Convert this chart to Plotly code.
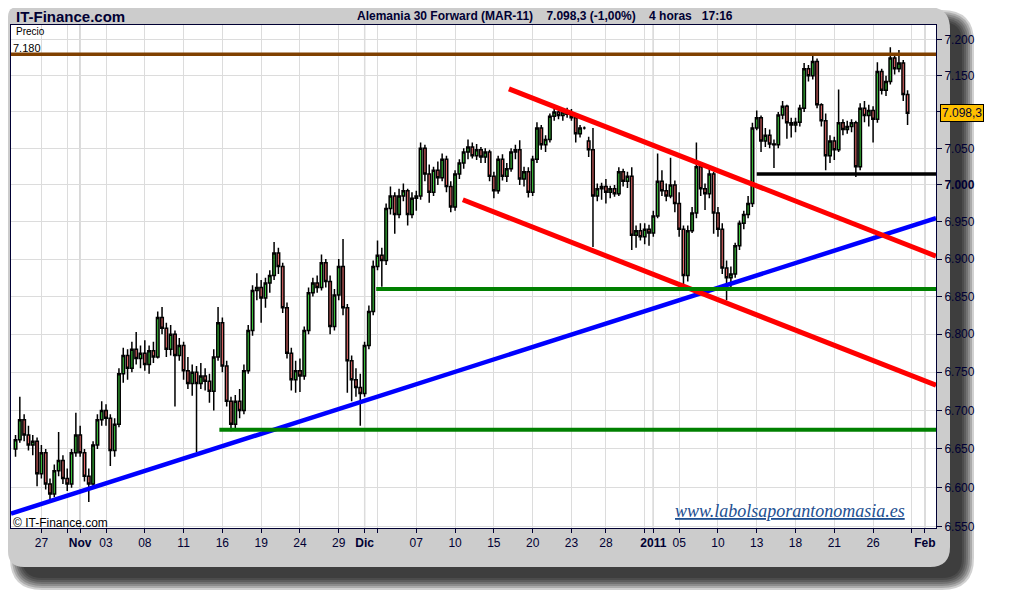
import math

import plotly.graph_objects as go

# sessions on the chart, 4 hour bars: three per session, two on the short sessions
trading_days = [
    '2010-10-25', '2010-10-26', '2010-10-27', '2010-10-28', '2010-10-29',
    '2010-11-01', '2010-11-02', '2010-11-03', '2010-11-04', '2010-11-05',
    '2010-11-08', '2010-11-09', '2010-11-10', '2010-11-11', '2010-11-12',
    '2010-11-15', '2010-11-16', '2010-11-17', '2010-11-18', '2010-11-19',
    '2010-11-22', '2010-11-23', '2010-11-24', '2010-11-25', '2010-11-26',
    '2010-11-29', '2010-11-30', '2010-12-01', '2010-12-02', '2010-12-03',
    '2010-12-06', '2010-12-07', '2010-12-08', '2010-12-09', '2010-12-10',
    '2010-12-13', '2010-12-14', '2010-12-15', '2010-12-16', '2010-12-17',
    '2010-12-20', '2010-12-21', '2010-12-22', '2010-12-23', '2010-12-24',
    '2010-12-27', '2010-12-28', '2010-12-29', '2010-12-30', '2010-12-31',
    '2011-01-03', '2011-01-04', '2011-01-05', '2011-01-06', '2011-01-07',
    '2011-01-10', '2011-01-11', '2011-01-12', '2011-01-13', '2011-01-14',
    '2011-01-17', '2011-01-18', '2011-01-19', '2011-01-20', '2011-01-21',
    '2011-01-24', '2011-01-25', '2011-01-26', '2011-01-27', '2011-01-28',
]
short_days = ['2010-12-24', '2010-12-31']
future_days = ['2011-01-31', '2011-02-01']

# one line per session
opens = [
    6650, 6662, 6688,  6668, 6655, 6660,  6618, 6645, 6605,  6592, 6622, 6635,  6612, 6605, 6645,
    6668, 6645, 6615,  6605, 6655, 6688,  6700, 6690, 6648,  6682, 6748, 6772,  6755, 6780, 6768,
    6775, 6760, 6778,  6770, 6822, 6808,  6780, 6800, 6772,  6785, 6752, 6735,  6750, 6735, 6745,
    6738, 6725, 6770,  6815, 6758, 6712,  6682, 6712, 6700,  6752, 6805, 6858,  6862, 6848, 6868,
    6878, 6908, 6890,  6835, 6775, 6740,  6752, 6745, 6805,  6855, 6868, 6862,  6895, 6870, 6810,
    6852, 6890, 6835,  6765, 6740, 6730,  6722, 6785, 6830,  6890, 6905, 6898,  6968, 6985, 6960,
    6985, 6992, 6960,  6982, 6985, 7050,  7015, 6990, 7020,  7010, 7035, 6998,  6970, 7015, 7030,
    7045, 7052, 7040,  7048, 7038, 7045,  7012, 6992, 7035,  7012, 7022, 7045,  7048, 7008, 7018,
    6990, 7035, 7078,  7055, 7062, 7094,  7100, 7095, 7100,  7097, 7092, 7070,  7078, 7060,
    7048, 6985, 6995,  6998, 6990, 6995,  6988, 7018, 7005,  7012, 6932, 6938,  6930, 6940,
    6935, 6958, 7005,  6992, 6985, 7000,  6975, 6940, 6878,  6938, 6962, 7025,  6995, 6988, 7015,
    6962, 6940, 6888,  6875, 6880, 6918,  6948, 6960, 6975,  7078, 7092, 7060,  7068, 7056, 7055,
    7096, 7108, 7085,  7082, 7086, 7105,  7160, 7150, 7170,  7110, 7088, 7040,  7060, 7048, 7085,
    7076, 7080, 7085,  7025, 7105, 7095,  7102, 7090, 7156,  7130, 7142, 7175,  7160, 7168, 7124,
]
highs = [
    6668, 6718, 6695,  6680, 6668, 6665,  6655, 6650, 6612,  6630, 6672, 6642,  6625, 6650, 6697,
    6680, 6650, 6625,  6660, 6695, 6712,  6708, 6695, 6690,  6755, 6782, 6780,  6790, 6803, 6785,
    6792, 6785, 6790,  6830, 6836, 6815,  6812, 6805, 6795,  6790, 6770, 6760,  6758, 6762, 6755,
    6748, 6780, 6836,  6822, 6765, 6718,  6720, 6728, 6760,  6812, 6865, 6881,  6872, 6875, 6885,
    6923, 6915, 6895,  6842, 6782, 6765,  6768, 6810, 6862,  6875, 6878, 6906,  6900, 6878, 6860,
    6900, 6927, 6840,  6772, 6755, 6748,  6790, 6838, 6898,  6925, 6915, 6975,  6998, 6990, 6995,
    7002, 6995, 6990,  6992, 7058, 7055,  7028, 7025, 7032,  7043, 7040, 7005,  7020, 7035, 7050,
    7062, 7058, 7056,  7052, 7050, 7048,  7018, 7040, 7042,  7030, 7050, 7055,  7061, 7025, 7024,
    7040, 7086, 7082,  7068, 7098, 7108,  7106, 7104, 7106,  7104, 7095, 7082,  7080, 7066,
    7078, 7002, 7003,  7008, 6999, 7000,  7024, 7022, 7018,  7024, 6945, 6948,  6948, 6946,
    6965, 7043, 7020,  7002, 7037, 7006,  6990, 6945, 6945,  6970, 7058, 7030,  7002, 7023, 7018,
    6970, 6948, 6898,  6890, 6922, 6952,  6965, 6985, 7085,  7102, 7095, 7078,  7076, 7062, 7100,
    7115, 7110, 7092,  7092, 7110, 7168,  7165, 7179, 7174,  7112, 7098, 7068,  7066, 7131, 7090,
    7088, 7090, 7088,  7112, 7115, 7110,  7108, 7169, 7160,  7150, 7190, 7180,  7186, 7172, 7130,
]
lows = [
    6640, 6658, 6660,  6648, 6642, 6602,  6612, 6598, 6584,  6588, 6615, 6605,  6596, 6600, 6640,
    6640, 6608, 6582,  6600, 6650, 6680,  6680, 6628, 6640,  6678, 6736, 6740,  6750, 6760, 6755,
    6752, 6748, 6762,  6768, 6800, 6770,  6772, 6705, 6765,  6740, 6728, 6719,  6646, 6728, 6726,
    6710, 6700, 6765,  6750, 6705, 6673,  6675, 6690, 6695,  6748, 6798, 6845,  6815, 6835, 6855,
    6872, 6880, 6828,  6768, 6726, 6723,  6724, 6740, 6800,  6850, 6855, 6858,  6862, 6800, 6805,
    6845, 6825, 6723,  6712, 6718, 6680,  6718, 6780, 6825,  6885, 6863, 6892,  6960, 6934, 6955,
    6978, 6945, 6955,  6965, 6980, 7005,  6976, 6985, 7000,  7005, 6990, 6963,  6965, 7008, 7022,
    7035, 7036, 7034,  7030, 7030, 7005,  6982, 6988, 7006,  7004, 7018, 7035,  7000, 6998, 6983,
    6985, 7030, 7048,  7045, 7058, 7088,  7090, 7088, 7092,  7088, 7058, 7065,  7076, 7038,
    6916, 6978, 6980,  6975, 6982, 6984,  6985, 6998, 6996,  6912, 6915, 6925,  6920, 6918,
    6930, 6955, 6985,  6978, 6982, 6963,  6930, 6858, 6870,  6935, 6955, 6985,  6966, 6982, 6934,
    6930, 6880, 6845,  6862, 6875, 6912,  6940, 6955, 6970,  7075, 7045, 7052,  7050, 7023, 7050,
    7090, 7063, 7065,  7072, 7080, 7100,  7142, 7145, 7105,  7080, 7020, 7030,  7034, 7045, 7068,
    7070, 7072, 7011,  7020, 7086, 7080,  7058, 7085, 7124,  7122, 7138, 7152,  7155, 7115, 7082,
]
closes = [
    6662, 6688, 6668,  6655, 6660, 6618,  6645, 6605, 6592,  6622, 6635, 6612,  6605, 6645, 6668,
    6645, 6615, 6605,  6655, 6688, 6700,  6690, 6648, 6682,  6748, 6772, 6755,  6780, 6768, 6775,
    6760, 6778, 6770,  6822, 6808, 6780,  6800, 6772, 6785,  6752, 6735, 6750,  6735, 6745, 6738,
    6725, 6770, 6815,  6758, 6712, 6682,  6712, 6700, 6752,  6805, 6858, 6862,  6848, 6868, 6878,
    6908, 6890, 6835,  6775, 6740, 6752,  6745, 6805, 6855,  6868, 6862, 6895,  6870, 6810, 6852,
    6890, 6835, 6765,  6740, 6730, 6722,  6785, 6830, 6890,  6905, 6898, 6968,  6985, 6960, 6985,
    6992, 6960, 6982,  6985, 7050, 7015,  6990, 7020, 7010,  7035, 6998, 6970,  7015, 7030, 7045,
    7052, 7040, 7048,  7038, 7045, 7012,  6992, 7035, 7012,  7022, 7045, 7048,  7008, 7018, 6990,
    7035, 7078, 7055,  7062, 7094, 7100,  7095, 7100, 7097,  7092, 7070, 7078,  7078, 7048,
    6985, 6995, 6998,  6990, 6995, 6988,  7018, 7005, 7012,  6932, 6938, 6930,  6940, 6935,
    6958, 7005, 6992,  6985, 7000, 6975,  6940, 6878, 6938,  6962, 7025, 6995,  6988, 7015, 6962,
    6940, 6888, 6875,  6880, 6918, 6948,  6960, 6975, 7078,  7092, 7060, 7068,  7056, 7055, 7096,
    7108, 7085, 7082,  7086, 7105, 7160,  7150, 7170, 7110,  7088, 7040, 7060,  7048, 7085, 7076,
    7080, 7085, 7025,  7105, 7095, 7102,  7090, 7156, 7130,  7142, 7175, 7160,  7168, 7124, 7098.3,
]

# x axis labels
tick_days = ['2010-10-27', '2010-10-29', '2010-11-01', '2010-11-03', '2010-11-08', '2010-11-11',
             '2010-11-16', '2010-11-19', '2010-11-24', '2010-11-29', '2010-12-01', '2010-12-02',
             '2010-12-07', '2010-12-10', '2010-12-15', '2010-12-20', '2010-12-23', '2010-12-28',
             '2010-12-31', '2011-01-03', '2011-01-05', '2011-01-10', '2011-01-13', '2011-01-18',
             '2011-01-21', '2011-01-26', '2011-01-31', '2011-02-01']
tick_labels = ['27', '', '<b>Nov</b>', '03', '08', '11', '16', '19', '24', '29', '<b>Dic</b>', '',
               '07', '10', '15', '20', '23', '28', '', '<b>2011</b>', '05', '10', '13', '18',
               '21', '26', '', '<b>Feb</b>']
month_days = ['2010-11-01', '2010-12-01', '2011-01-03', '2011-02-01']

# price axis
price_ticks = [6550, 6600, 6650, 6700, 6750, 6800, 6850, 6900, 6950, 7000, 7050, 7100, 7150, 7200]
price_labels = ['6.550', '6.600', '6.650', '6.700', '6.750', '6.800', '6.850', '6.900', '6.950',
                '<b>7.000</b>', '7.050', '', '7.150', '7.200']

# drawn support / resistance levels and trend lines
resistance = 7180
support_jan = ('2011-01-13', 7015)
support_dec = ('2010-12-02', 6860)
support_nov = ('2010-11-16', 6675)
trend_blue = (6567, 6955)                # left edge -> right edge
channel_top = (114.5, 7132, 6904)        # start bar, start price, price at right edge
channel_bottom = (103.8, 6980, 6733)

change_pct = -1.00


def es_num(v, dec=0):
    s = f"{v:,.{dec}f}"
    return s.replace(',', 'X').replace('.', ',').replace('X', '.')


# bar positions (sessions without gaps)
bar_x = []
day_start = {}
pos = 0
for day in trading_days + future_days:
    day_start[day] = pos
    n = 2 if day in short_days else 3
    if day not in future_days:
        bar_x.extend(range(pos, pos + n))
    pos += n

x_lo, x_hi = -1.05, 213.6
y_lo, y_hi = 6548.7, 7221

# page puts the figure 8px in from the top left corner
OFF = 8
W, H = 1010 - OFF, 590 - OFF
ML, MR, MT, MB = 11 - OFF, 74, 25 - OFF, 62
PW, PH = W - ML - MR, H - MT - MB

NAVY = '#000033'
FONT = 'Liberation Sans, Arial, sans-serif'


def px(x):
    return (x - OFF - ML) / PW


def py(y):
    return (H - MB - (y - OFF)) / PH


def rounded_path(x0, y0, x1, y1, rtl, rtr, rbr, rbl):
    return ' '.join([
        f'M{px(x0 + rtl)},{py(y0)}',
        f'L{px(x1 - rtr)},{py(y0)}',
        f'Q{px(x1)},{py(y0)} {px(x1)},{py(y0 + rtr)}',
        f'L{px(x1)},{py(y1 - rbr)}',
        f'Q{px(x1)},{py(y1)} {px(x1 - rbr)},{py(y1)}',
        f'L{px(x0 + rbl)},{py(y1)}',
        f'Q{px(x0)},{py(y1)} {px(x0)},{py(y1 - rbl)}',
        f'L{px(x0)},{py(y0 + rtl)}',
        f'Q{px(x0)},{py(y0)} {px(x0 + rtl)},{py(y0)}',
        'Z',
    ])


fig = go.Figure()

fig.add_trace(go.Candlestick(
    x=bar_x, open=opens, high=highs, low=lows, close=closes,
    increasing=dict(line=dict(color='black', width=1.5), fillcolor='#3cc43c'),
    decreasing=dict(line=dict(color='black', width=1.5), fillcolor='#e66a6a'),
    whiskerwidth=0, hoverinfo='skip', showlegend=False))


def add_line(x0, x1, y0, y1, color, width):
    fig.add_trace(go.Scatter(x=[x0, x1], y=[y0, y1], mode='lines',
                             line=dict(color=color, width=width),
                             hoverinfo='skip', showlegend=False))


add_line(x_lo, x_hi, trend_blue[0], trend_blue[1], '#0000ff', 4.5)
add_line(channel_top[0], x_hi, channel_top[1], channel_top[2], '#ff0000', 5)
add_line(channel_bottom[0], x_hi, channel_bottom[1], channel_bottom[2], '#ff0000', 5)
add_line(day_start[support_nov[0]] - 0.7, x_hi, support_nov[1], support_nov[1], '#008000', 4)
add_line(day_start[support_dec[0]] - 0.3, x_hi, support_dec[1], support_dec[1], '#008000', 4)
add_line(day_start[support_jan[0]], x_hi, support_jan[1], support_jan[1], '#000000', 3.5)
add_line(x_lo, x_hi, resistance, resistance, '#804000', 3.5)

# frame with drop shadow
shapes = []
for k in range(7):
    e = 2 * k
    shapes.append(dict(type='path', xref='paper', yref='paper', layer='below',
                       path=rounded_path(22 - e, 22 - e, 962 + e, 578 + e, 20 + e, 20 + e, 20 + e, 20 + e),
                       fillcolor='rgba(0,0,0,0.18)', line=dict(width=0)))
shapes.append(dict(type='path', xref='paper', yref='paper', layer='below',
                   path=rounded_path(8, 7, 950, 567, 10, 22, 20, 16),
                   fillcolor='#cccccc', line=dict(width=0)))
shapes.append(dict(type='rect', xref='paper', yref='paper', layer='below',
                   x0=0, x1=1, y0=0, y1=1, fillcolor='white', line=dict(width=0)))
for d in month_days:
    shapes.append(dict(type='line', xref='x', yref='paper', layer='between',
                       x0=day_start[d], x1=day_start[d], y0=0, y1=1,
                       line=dict(color='#a8a8a8', width=1.2)))

last = closes[-1]
annotations = [
    dict(text='<b>IT-Finance.com</b>', x=px(14), y=py(16), xanchor='left', yanchor='middle',
         font=dict(size=15, color=NAVY, family=FONT)),
    dict(text='<b>Alemania 30 Forward (MAR-11)\u00a0\u00a0\u00a0 ' + es_num(last, 1)
              + ' (' + es_num(change_pct, 2) + '%)\u00a0\u00a0\u00a0 4 horas\u00a0\u00a0 17:16</b>',
         x=px(355), y=py(16), xanchor='left', yanchor='middle',
         font=dict(size=12, color=NAVY, family=FONT)),
    dict(text='Precio', x=px(14), y=py(32), xanchor='left', yanchor='middle',
         font=dict(size=10, color='#000000', family=FONT)),
    dict(text=es_num(resistance), x=px(11), y=py(48), xanchor='left', yanchor='middle',
         font=dict(size=11, color='#000000', family=FONT)),
    dict(text='© IT-Finance.com', x=px(11), y=py(523), xanchor='left', yanchor='middle',
         font=dict(size=12, color='#000000', family=FONT)),
    dict(text='<i><u>www.labolsaporantonomasia.es</u></i>', x=px(790), y=py(511),
         xanchor='center', yanchor='middle',
         font=dict(size=18, color='#1d4f91', family='Liberation Serif, Times New Roman, serif')),
    dict(text=es_num(last, 1), xref='paper', yref='y', x=1.004, y=math.log10(last),
         xanchor='left', yanchor='middle', bgcolor='#ffc000', bordercolor='#000000',
         borderwidth=1, borderpad=1, font=dict(size=12, color=NAVY, family=FONT)),
]
for a in annotations:
    a.setdefault('xref', 'paper')
    a.setdefault('yref', 'paper')
    a['showarrow'] = False

fig.update_layout(
    width=W, height=H,
    margin=dict(l=ML, r=MR, t=MT, b=MB, pad=0),
    paper_bgcolor='white',
    plot_bgcolor='white',
    boxgap=0.15,
    shapes=shapes,
    annotations=annotations,
    showlegend=False,
    hovermode=False,
    xaxis=dict(range=[x_lo, x_hi], tickmode='array',
               tickvals=[day_start[d] for d in tick_days], ticktext=tick_labels,
               showgrid=True, gridcolor='#dcdcdc', gridwidth=1, zeroline=False,
               showline=True, linecolor=NAVY, linewidth=1, mirror=True,
               ticks='outside', ticklen=4, tickcolor=NAVY,
               tickfont=dict(size=12, color=NAVY, family=FONT),
               rangeslider=dict(visible=False), fixedrange=True),
    yaxis=dict(type='log', range=[math.log10(y_lo), math.log10(y_hi)], side='right',
               tickmode='array', tickvals=price_ticks, ticktext=price_labels,
               showgrid=True, gridcolor='#dcdcdc', gridwidth=1, zeroline=False,
               showline=True, linecolor=NAVY, linewidth=1, mirror=True,
               ticks='outside', ticklen=5, tickcolor=NAVY,
               tickfont=dict(size=12, color=NAVY, family=FONT), fixedrange=True),
)

fig.write_html('out.html', config={'displayModeBar': False})
